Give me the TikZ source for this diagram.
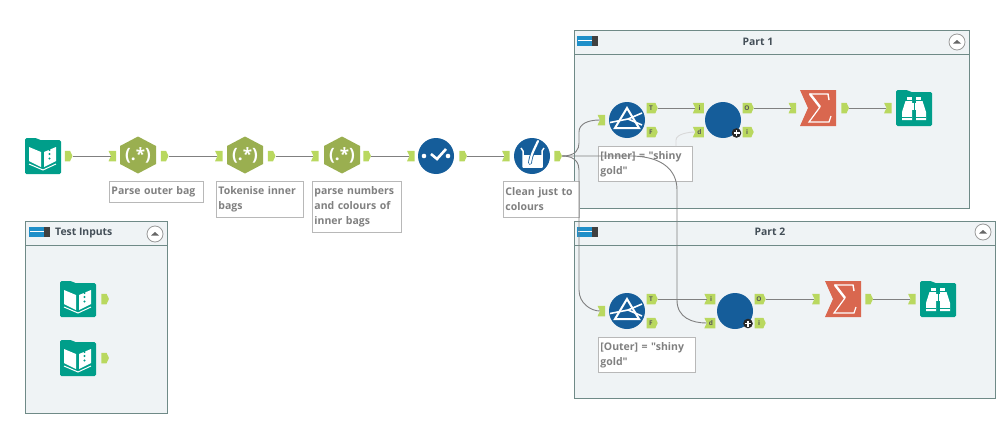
\documentclass[tikz,border=0pt]{standalone}
\usepackage{fontspec}
\setmainfont{Open Sans}[Ligatures=TeXOff]
\usetikzlibrary{shapes.geometric,shapes.symbols}
\definecolor{toolteal}{HTML}{009E8A}
\definecolor{toolblue}{HTML}{155D9A}
\definecolor{toolhex}{HTML}{9AAF50}
\definecolor{toolsum}{HTML}{D9674F}
\definecolor{portlime}{HTML}{B9D85F}
\definecolor{groupfill}{HTML}{EFF3F5}
\definecolor{groupline}{HTML}{6F8A87}
\definecolor{barblue}{HTML}{1F8FC9}
\tikzset{wire/.style={draw=black!50,line width=0.9pt},
  faintwire/.style={draw=black!15,line width=0.9pt},
  groupbox/.style={draw=groupline,fill=groupfill,line width=1pt},
  grouptitle/.style={font=\bfseries\fontsize{10.4}{12}\selectfont,text=black!75!cyan,inner sep=0pt},
  note/.style={draw=black!28,fill=white,line width=0.9pt,anchor=north west,inner sep=2pt,align=left,
    font=\bfseries\fontsize{10.5}{15}\selectfont,text=black!50},
  outport/.style={shape=signal,signal to=east,signal from=nowhere,signal pointer angle=130,fill=portlime,
    inner sep=0pt,minimum width=7.5pt,minimum height=10.5pt,font=\bfseries\fontsize{6.5}{6.5}\selectfont,text=black!65},
  inport/.style={outport,signal to=nowhere,signal from=west},
  outtag/.style={outport,minimum width=11pt},
  intag/.style={inport,minimum width=11pt},
  spot/.style={minimum size=36pt,inner sep=0pt},
  regex/.style={spot,text=white,font=\bfseries\fontsize{17}{17}\selectfont},
  hexicon/.pic={\fill[toolhex] (0,-18.5)--(18,-9)--(18,9)--(0,18.5)--(-18,9)--(-18,-9)--cycle;},
  folder/.pic={\fill[toolteal,rounded corners=1.5pt] (-18,-18)--(-6,-18)--(-4,-16)--(18,-16)--(18,18)--(-18,18)--cycle;},
  bookicon/.pic={\pic {folder};
    \fill[white] (-14,-9)--(-2,-4)--(-2,11)--(-14,5)--cycle;
    \fill[white] (1,-4)--(13,-9)--(13,5)--(1,11)--cycle;
    \draw[white,line width=1pt] (-14,8)--(0,14)--(13,8);
    \foreach \d in {-6,-2,2.5}{\fill[toolteal] (6.5,\d) circle (1.2);}},
  glassicon/.pic={\pic {folder};
    \fill[white] (-7,-11) rectangle (-2,-8); \fill[white] (2,-11) rectangle (7,-8);
    \fill[white] (-8.5,-7)--(-2,-7)--(-2,12)--(-12,12)--(-12,4)--cycle;
    \fill[white] (8.5,-7)--(2,-7)--(2,12)--(12,12)--(12,4)--cycle;
    \fill[white] (-2,-5) rectangle (2,2);
    \draw[toolteal,line width=0.8pt] (-12,9)--(-2,9) (2,9)--(12,9) (0,-6)--(0,2);},
  checkicon/.pic={\fill[toolblue] (0,0) circle (18);
    \fill[white] (-12,0) circle (2.3); \fill[white] (12,0) circle (2.3);
    \draw[white,line width=2.6pt] (-5,-2)--(1,3)--(10,-7);},
  beakericon/.pic={\fill[toolblue] (0,0) circle (18);
    \draw[white,line width=1.5pt,line join=round] (-11,-8)--(-9,-5)--(-9,11)--(10,11)--(10,-5)--(12,-8);
    \fill[white] (-9,-1) rectangle (10,11);
    \draw[toolblue,line width=3.8pt,line cap=round] (6,-15) .. controls (3,-8) and (-1,-2) .. (-2,7);
    \draw[white,line width=2.2pt,line cap=round] (6,-15) .. controls (3,-8) and (-1,-2) .. (-2,7);},
  prismicon/.pic={\fill[toolblue] (0,0) circle (18);
    \draw[white,line width=2pt,line join=miter] (0,-12)--(12,8)--(-12,8)--cycle;
    \draw[white,line width=1.6pt] (-17,2.5)--(1,-1)--(15,-7) (1,-1)--(15,5);},
  sumicon/.pic={\fill[toolsum] (-18,-18)--(18,-18)--(18,18)--(-18,18)--(-10,0)--cycle;
    \draw[white,line width=1.4pt,miter limit=2] (11,-8)--(10,-14)--(-9,-14);
    \draw[white,line width=2.4pt] (-8,-14)--(2,-1);
    \draw[white,line width=1.2pt] (2,-1)--(-9,14)--(11,14)--(13,8);},
  groupbar/.pic={\fill[barblue] (0,0) rectangle (16,10);
    \fill[black!75] (15,0) rectangle (21,10);
    \draw[white,line width=0.8pt] (1,4.5)--(15,4.5);},
  collapse/.pic={\fill[white,draw=black!40,line width=0.8pt] (0,0) circle (8);
    \fill[black!60] (-4,1.5)--(0,-2)--(4,1.5)--cycle;}}
\begin{document}
\begin{tikzpicture}[x=1pt,y=-1pt]
\useasboundingbox (0,0) rectangle (998,423);
\foreach \l/\t/\r/\b/\h in {574/30/969/208/54,574/221/995/398/245,25/221/167/413/245}{
  \draw[groupbox] (\l,\t) rectangle (\r,\b);
  \draw[draw=groupline,line width=0.8pt] (\l,\h)--(\r,\h);}
\foreach \x/\y in {577/36,577/227,29/227}{\pic at (\x,\y) {groupbar};}
\foreach \x/\y in {957/42,983/232,155/234}{\pic at (\x,\y) {collapse};}
\node[grouptitle] (part1title) at (758,42) {Part 1};
\node[grouptitle] (part2title) at (770,232) {Part 2};
\node[grouptitle,anchor=west] (testtitle) at (55,233) {Test Inputs};
% annotations
\node[note,minimum width=94pt,minimum height=21pt,text width=90pt] (noteparse) at (109,181) {Parse outer bag};
\node[note,minimum width=87pt,minimum height=36pt,text width=83pt] (notetoken) at (216,181) {Tokenise inner\\bags};
\node[note,minimum width=89pt,minimum height=51pt,text width=85pt] (notenumbers) at (312,181) {parse numbers\\and colours of\\inner bags};
\node[note,minimum width=76pt,minimum height=36pt,text width=72pt] (noteclean) at (503,181) {Clean just to\\colours};
\node[note,minimum width=94pt,minimum height=35pt,text width=90pt] (noteinner) at (598,146) {[Inner] = "shiny\\gold"};
\node[note,minimum width=97pt,minimum height=35pt,text width=93pt] (noteouter) at (598,337) {[Outer] = "shiny\\gold"};
% tools
\foreach \n/\x/\y/\i in {input/43/156/bookicon,check/436/156/checkicon,clean/532/156/beakericon,
  filterone/627/120/prismicon,sumone/818/108/sumicon,glassone/914/108/glassicon,
  filtertwo/627/311/prismicon,sumtwo/843/299/sumicon,glasstwo/938/299/glassicon,
  testone/78/299/bookicon,testtwo/78/358/bookicon}{
  \node[spot] (\n) at (\x,\y) {}; \pic at (\n) {\i};}
\foreach \n/\x in {parse/138,token/245,numbers/342}{
  \pic at (\x,155) {hexicon}; \node[regex] (\n) at (\x,155) {(.*)};}
\foreach \n/\x/\y in {joinone/723/120,jointwo/735/311}{\fill[toolblue] (\x,\y) circle (18); \node[spot] (\n) at (\x,\y) {};}
\foreach \x/\y in {736.5/133,748/323.5}{\fill[black!85] (\x,\y) circle (4.8);
  \draw[white,line width=1.2pt] (\x-3,\y)--(\x+3,\y) (\x,\y-3)--(\x,\y+3);}
% ports
\foreach \n/\x/\y in {input-o/67.5/156,parse-o/163.5/156,token-o/270.5/156,numbers-o/366/156,check-o/462/156,clean-o/557/156,
  sumone-o/844/108,sumtwo-o/868/299,testone-o/104/299,testtwo-o/104/358}{\node[outport] (\n) at (\x,\y) {};}
\foreach \n/\x/\y in {parse-i/113.5/156,token-i/220/156,numbers-i/316/156,check-i/412/156,clean-i/507/156,
  filterone-i/602.5/120,filtertwo-i/602.5/311,sumone-i/793.5/108,sumtwo-i/817/299,glassone-i/889/108,glasstwo-i/913/299}{\node[inport] (\n) at (\x,\y) {};}
\foreach \n/\x/\y/\l in {filterone-t/651/108/T,filterone-f/651/132/F,filtertwo-t/651/299/T,filtertwo-f/651/323/F,
  joinone-o/747/108/O,joinone-r/747/132/i,jointwo-o/759/299/O,jointwo-r/759/323/i}{\node[outtag] (\n) at (\x,\y) {\l};}
\foreach \n/\x/\y/\l in {joinone-i/699.5/108/i,joinone-d/699.5/132/d,jointwo-i/711/299/i,jointwo-d/711/323/d}{\node[intag] (\n) at (\x,\y) {\l};}
% wires
\foreach \a/\b in {input-o/parse-i,parse-o/token-i,token-o/numbers-i,numbers-o/check-i,check-o/clean-i,
  filterone-t/joinone-i,joinone-o/sumone-i,sumone-o/glassone-i,
  filtertwo-t/jointwo-i,jointwo-o/sumtwo-i,sumtwo-o/glasstwo-i}{\draw[wire] (\a.east)--(\b.west);}
\coordinate (faintstart) at (676,146);
\draw[faintwire] (faintstart)--(676,140) .. controls +(0,-6) and +(-6,0) .. (joinone-d.west);
\draw[wire] (clean-o.east) .. controls +(14,0) and +(0,6) .. (579,143)--(579,132) .. controls +(0,-8) and +(-12,0) .. (filterone-i.west);
\draw[wire] (clean-o.east) .. controls +(14,0) and +(0,-6) .. (579,170)--(579,290) .. controls +(0,14) and +(-8,0) .. (filtertwo-i.west);
\draw[wire] (clean-o.east)--(630,156) .. controls +(32,0) and +(0,-20) .. (677,190)--(677,300) .. controls +(0,18) and +(-14,0) .. (jointwo-d.west);
\end{tikzpicture}
\end{document}
